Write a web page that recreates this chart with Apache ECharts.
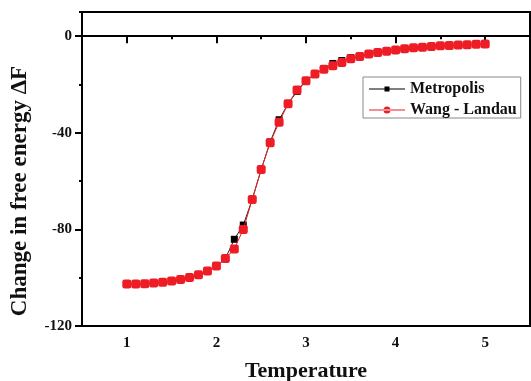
<!DOCTYPE html>
<html>
<head>
<meta charset="utf-8">
<script src="https://cdn.jsdelivr.net/npm/echarts@6/dist/echarts.min.js"></script>
<style>html,body{margin:0;padding:0;background:#fff;}#c{width:531px;height:381px;}</style>
</head>
<body>
<div id="c"></div>
<script>
var temperature = [1.0,1.1,1.2,1.3,1.4,1.5,1.6,1.7,1.8,1.9,2.0,2.1,2.2,2.3,2.4,2.5,2.6,2.7,2.8,2.9,3.0,3.1,3.2,3.3,3.4,3.5,3.6,3.7,3.8,3.9,4.0,4.1,4.2,4.3,4.4,4.5,4.6,4.7,4.8,4.9,5.0];
var metropolis = [-102.6,-102.6,-102.5,-102.2,-101.9,-101.4,-100.7,-99.9,-98.8,-97.2,-95.2,-92.1,-84.1,-78.2,-67.6,-55.2,-43.8,-34.6,-28.0,-22.9,-18.5,-15.7,-13.5,-11.3,-10.1,-8.9,-8.3,-7.4,-6.8,-6.2,-5.7,-5.2,-4.8,-4.6,-4.3,-4.0,-3.9,-3.7,-3.6,-3.4,-3.3];
var wangLandau = [-102.6,-102.6,-102.5,-102.2,-101.9,-101.4,-100.7,-99.9,-98.8,-97.2,-95.2,-92.1,-88.1,-80.0,-67.6,-55.2,-44.1,-35.6,-28.0,-22.3,-18.5,-15.7,-13.7,-12.3,-10.9,-9.4,-8.4,-7.4,-6.8,-6.2,-5.7,-5.2,-4.8,-4.6,-4.3,-4.0,-3.9,-3.7,-3.6,-3.4,-3.3];
var xMajorTicks = [1,2,3,4,5];
var yMajorTicks = [-120,-80,-40,0];
var xName = 'Temperature';
var yName = 'Change in free energy \u0394F';
var seriesNames = ['Metropolis','Wang - Landau'];

function pairs(xs, ys){ return xs.map(function(x,i){ return [x, ys[i]]; }); }
var FONT = '"Liberation Serif","Times New Roman",serif';
var squareIcon = 'path://M0,4.6H36V5.4H0Z M15.5,2.5H20.5V7.5H15.5Z';
var circleIcon = 'path://M0,4.6H36V5.4H0Z M14.5,5A3.5,3.5 0 1,0 21.5,5A3.5,3.5 0 1,0 14.5,5Z';
var chart = echarts.init(document.getElementById('c'), null, {renderer:'canvas'});
chart.setOption({
  animation:false,
  backgroundColor:'#fff',
  grid:{left:82, top:12, right:1, bottom:55, show:true, borderColor:'#000', borderWidth:2, backgroundColor:'transparent', outerBoundsMode:'none', containLabel:false},
  legend:{
    orient:'vertical', left:363, top:77,
    backgroundColor:'#fff', borderColor:'#888', borderWidth:1, borderRadius:0,
    padding:[4,4,0,6], itemWidth:36, itemHeight:12, itemGap:5, symbolKeepAspect:true,
    textStyle:{fontFamily:FONT, fontWeight:'bold', fontSize:16, color:'#111'},
    data:[{name:seriesNames[0], icon:squareIcon}, {name:seriesNames[1], icon:circleIcon}]
  },
  xAxis:[{
    type:'value', min:0.5, max:5.5, interval:0.5, position:'bottom',
    name:xName, nameLocation:'middle', nameGap:34,
    nameTextStyle:{fontFamily:FONT, fontWeight:'bold', fontSize:22, color:'#111'},
    axisLine:{lineStyle:{color:'#000', width:2}},
    axisTick:{customValues:xMajorTicks, length:7, lineStyle:{color:'#000', width:2}},
    axisLabel:{customValues:xMajorTicks, margin:10, fontFamily:FONT, fontWeight:'bold', fontSize:15, color:'#111'},
    splitLine:{show:false}
  },{
    type:'value', min:0.5, max:5.5, interval:0.5, position:'bottom',
    axisLine:{show:false}, axisLabel:{show:false}, splitLine:{show:false},
    axisTick:{length:3, lineStyle:{color:'#000', width:2}}
  }],
  yAxis:[{
    type:'value', min:-120, max:10, interval:20, position:'left',
    name:yName, nameLocation:'middle', nameGap:50,
    nameTextStyle:{fontFamily:FONT, fontWeight:'bold', fontSize:23, color:'#111', padding:[0,44,0,0]},
    axisLine:{lineStyle:{color:'#000', width:2}},
    axisTick:{customValues:yMajorTicks, length:7, lineStyle:{color:'#000', width:2}},
    axisLabel:{customValues:yMajorTicks, margin:10, fontFamily:FONT, fontWeight:'bold', fontSize:15, color:'#111'},
    splitLine:{show:false}
  },{
    type:'value', min:-120, max:10, interval:20, position:'left',
    axisLine:{show:false}, axisLabel:{show:false}, splitLine:{show:false},
    axisTick:{length:3, lineStyle:{color:'#000', width:2}}
  }],
  series:[{
    name:seriesNames[0], type:'line', xAxisIndex:0, yAxisIndex:0,
    data:pairs(temperature, metropolis),
    symbol:'rect', symbolSize:7,
    itemStyle:{color:'#000'}, lineStyle:{color:'#222', width:1}, z:2
  },{
    name:seriesNames[1], type:'line', xAxisIndex:0, yAxisIndex:0,
    data:pairs(temperature, wangLandau),
    symbol:'roundRect', symbolSize:9,
    itemStyle:{color:'#ee1c24'}, lineStyle:{color:'#ee1c24', width:1}, z:3
  }]
});
</script>
</body>
</html>
